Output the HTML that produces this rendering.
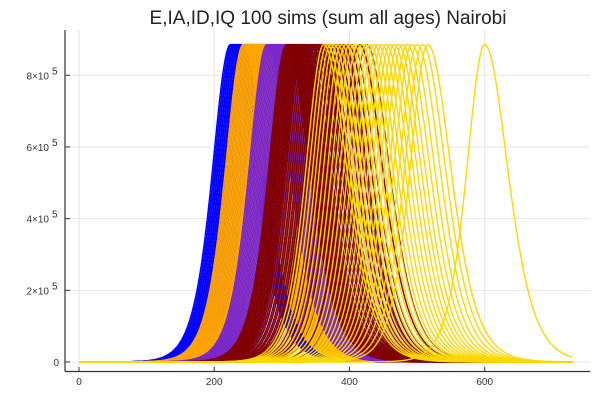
<!DOCTYPE html>
<html><head><meta charset="utf-8"><style>
body{margin:0;background:#fff;font-family:"Liberation Sans",sans-serif}
svg text{font-family:"Liberation Sans",sans-serif;fill:#333}
</style></head><body>
<svg id="chart" width="600" height="400" viewBox="0 0 600 400" xmlns="http://www.w3.org/2000/svg">
<text x="328" y="24" font-size="19" text-anchor="middle" style="fill:#222">E,IA,ID,IQ 100 sims (sum all ages) Nairobi</text>
<g id="grid"></g>
<g id="series"></g>
<g id="axes"></g>
</svg>
<script>
const xTicks=[0,200,400,600];
const yTicks=[0,2e5,4e5,6e5,8e5];
const yTickLabels=["0","2×10","4×10","6×10","8×10"];
const peakValue=886000;
const blueDays=[224,226,228,229,231,232,234,235,237,238,240,241,243,244,246,247,249,250,252,253,255,257,259,261,263,265,267,269,271,273];
const orangeDays=[243,245,247,249,251,253,255,257,259,261,263,265,267,269,271,273,275,277,279,281,283,285,287,289,291,293,295,297,299,302];
const purpleDays=[278,280,282,284,286,288,290,292,294,296,298,300,302,304,306,308,310,312,315,318,321,324,327,330,334,338,343,350,356,362,368,375,382,390,400];
const maroonDays=[307,309,311,313,315,317,319,321,323,325,327,329,331,333,336,339,342,345,348,351,354,357,360,364,368,372,376,380,386,392,398,405,415,425];
const goldDays=[362,367,372,377,382,388,394,400,406,412,418,424,430,436,442,448,454,460,466,472,478,485,492,500,508,516,600];
const seriesColors=["#0000ff","#ffa500","#7a28cc","#800000","#ffd700"];
const seriesDays=[blueDays,orangeDays,purpleDays,maroonDays,goldDays];
const NS="http://www.w3.org/2000/svg";
const X=t=>79+t*(484.7-79)/600;
const Y=v=>362-v*(362-75.3)/8e5;
function shape(t,tp){const w=t<tp?36:46.5;const c=Math.cosh((t-tp)/w);return peakValue/(c*c);}
const grid=document.getElementById('grid'),axes=document.getElementById('axes'),ser=document.getElementById('series');
function mk(tag,attrs,parent){const e=document.createElementNS(NS,tag);for(const k in attrs)e.setAttribute(k,attrs[k]);parent.appendChild(e);return e;}
xTicks.forEach(t=>{
 const g=mk('line',{x1:X(t),x2:X(t),y1:30,y2:371,stroke:'#e6e6e6','stroke-width':1},grid);
 
 
 const tk=mk('line',{x1:X(t),x2:X(t),y1:371,y2:367,stroke:'#333'},axes);
 
 
 const l=mk('text',{x:X(t),y:385,'font-size':10,'text-anchor':'middle'},axes);l.textContent=t;
 
 
});
yTicks.forEach((v,i)=>{
 const g=mk('line',{x1:65,x2:590,y1:Y(v),y2:Y(v),stroke:'#e6e6e6','stroke-width':1},grid);
 
 
 const tk=mk('line',{x1:65,x2:70,y1:Y(v),y2:Y(v),stroke:'#333'},axes);
 
 
 const l=mk('text',{x:i==0?59:49,y:Y(v)+4,'font-size':10,'text-anchor':'end'},axes);l.textContent=yTickLabels[i];
 
 
 if(i>0){const s=mk('text',{x:52,y:Y(v)-1,'font-size':10},axes);s.textContent="5";
 
 }
});
const ax1=mk('line',{x1:65,x2:65,y1:30,y2:371.5,stroke:'#333','stroke-width':1.2},axes);


const ax2=mk('line',{x1:65,x2:590,y1:371.5,y2:371.5,stroke:'#333','stroke-width':1.2},axes);


seriesDays.forEach((days,si)=>{
 days.forEach(tp=>{
  let d='';
  for(let t=0;t<=730;t+=2){d+=(t?'L':'M')+X(t).toFixed(1)+','+Y(shape(t,tp)).toFixed(1);}
  const p=mk('path',{d:d,fill:'none',stroke:seriesColors[si],'stroke-width':1.4},ser);
  
  
 });
});
</script>
</body></html>
